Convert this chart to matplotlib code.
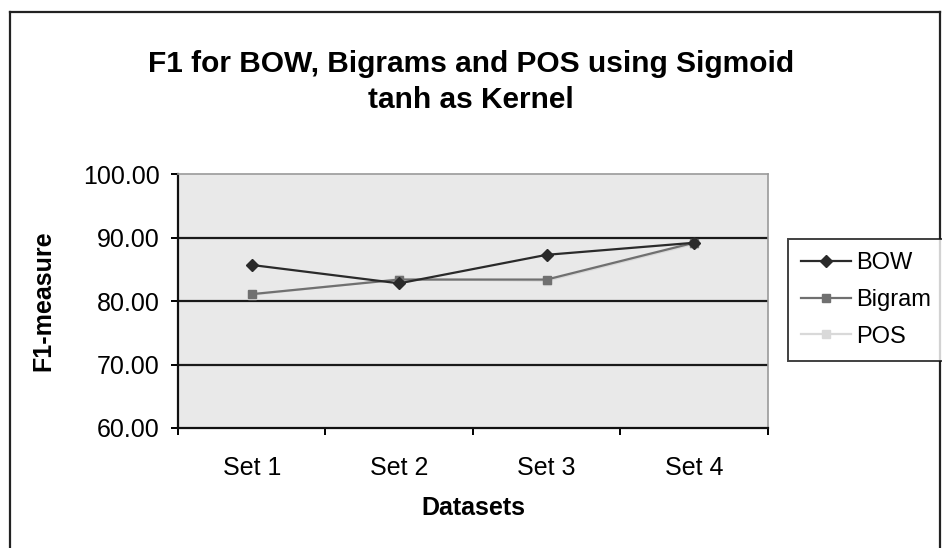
import matplotlib

matplotlib.use("Agg")
import matplotlib.pyplot as plt
from matplotlib.lines import Line2D

# values
datasets = ["Set 1", "Set 2", "Set 3", "Set 4"]
bow = [85.7, 82.8, 87.3, 89.2]
bigram = [81.1, 83.4, 83.4, 89.2]
pos = [81.0, 83.5, 83.2, 89.0]
y_ticks = [60, 70, 80, 90, 100]

plt.rcParams["font.family"] = ["Liberation Sans", "DejaVu Sans"]

fig = plt.figure(figsize=(9.42, 5.48), dpi=100)
fig.patch.set_facecolor("white")

# outer chart frame
for xs, ys in [((0.011, 0.011), (0.0, 0.978)), ((0.011, 0.998), (0.978, 0.978)), ((0.998, 0.998), (0.0, 0.978))]:
    fig.add_artist(Line2D(xs, ys, transform=fig.transFigure, color="#222222", lw=1.6))

ax = fig.add_axes([0.189, 0.219, 0.626, 0.463])
ax.set_facecolor("#e9e9e9")

x = list(range(len(datasets)))
ax.plot(x, pos, color="#d9d9d9", lw=1.6, marker="s", ms=6, label="POS", zorder=3)
ax.plot(x, bigram, color="#707070", lw=1.6, marker="s", ms=6, label="Bigram", zorder=4)
ax.plot(x, bow, color="#2a2a2a", lw=1.6, marker="D", ms=6, label="BOW", zorder=5)

for v in [70, 80, 90]:
    ax.axhline(v, color="#1a1a1a", lw=1.6, zorder=2)

ax.set_xlim(-0.5, len(datasets) - 0.5)
ax.set_ylim(60, 100)
ax.set_yticks(y_ticks)
ax.set_yticklabels([f"{v:.2f}" for v in y_ticks], fontsize=18)
ax.set_xticks(x)
ax.set_xticklabels(datasets, fontsize=18)
ax.set_xticks([i - 0.5 for i in range(len(datasets) + 1)], minor=True)
ax.tick_params(axis="x", which="major", length=0, pad=20)
ax.tick_params(axis="x", which="minor", length=5, width=1.4, direction="out")
ax.tick_params(axis="y", length=5, width=1.4, direction="out", pad=8)

for side in ["left", "bottom"]:
    ax.spines[side].set_color("#111111")
    ax.spines[side].set_linewidth(1.6)
for side in ["top", "right"]:
    ax.spines[side].set_color("#9a9a9a")
    ax.spines[side].set_linewidth(1.2)

ax.set_xlabel("Datasets", fontsize=18, fontweight="bold", labelpad=12)
ax.set_ylabel("F1-measure", fontsize=18, fontweight="bold", labelpad=20)

fig.text(0.5, 0.85, "F1 for BOW, Bigrams and POS using Sigmoid\ntanh as Kernel",
         ha="center", va="center", fontsize=21.5, fontweight="bold", linespacing=1.35)

handles, labels = ax.get_legend_handles_labels()
order = [2, 1, 0]
leg = fig.legend([handles[i] for i in order], [labels[i] for i in order],
                 loc="upper left", bbox_to_anchor=(0.837, 0.563), fontsize=17,
                 frameon=True, fancybox=False, edgecolor="#111111",
                 handlelength=2.1, handletextpad=0.2, borderpad=0.55, labelspacing=0.62,
                 borderaxespad=0.0)
leg.get_frame().set_linewidth(1.4)

fig.savefig("out.png", dpi=100, facecolor="white")
